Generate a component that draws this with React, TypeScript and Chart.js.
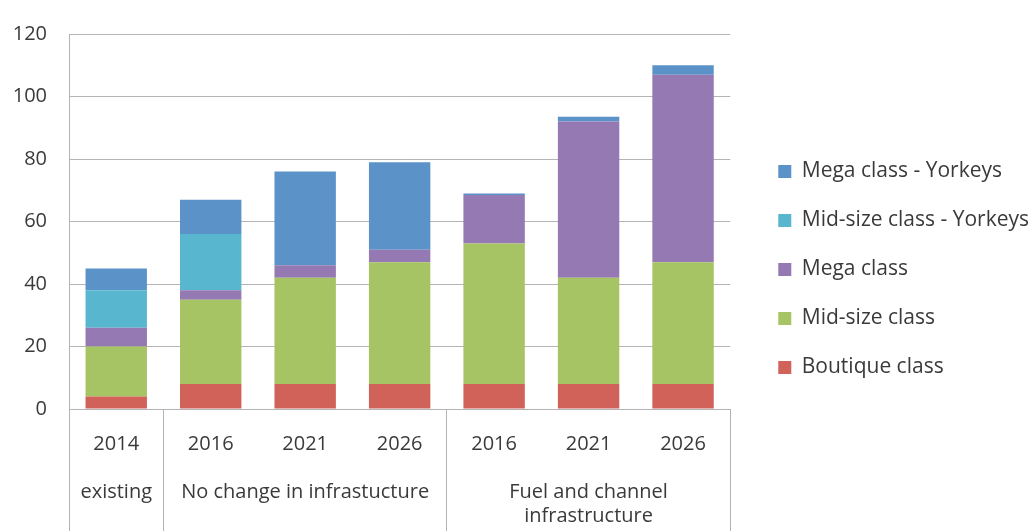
import React, { useEffect, useRef } from 'react';
import { Chart, registerables } from 'chart.js';

Chart.register(...registerables);

const years = ['2014', '2016', '2021', '2026', '2016', '2021', '2026'];
const groupLines: string[][] = [
  ['existing'],
  [],
  ['No change in infrastucture'],
  [],
  [],
  ['Fuel and channel', 'infrastructure'],
  [],
];
// grid line indices where group separators are drawn
const separatorIdx = [0, 1, 4];

const boutique = [4, 8, 8, 8, 8, 8, 8];
const midSize = [16, 27, 34, 39, 45, 34, 39];
const mega = [6, 3, 4, 4, 15.5, 50, 60];
const midYorkeys = [12, 18, 0, 0, 0, 0, 0];
const megaYorkeys = [7, 11, 30, 28, 0.5, 1.5, 3];

const seriesNames = ['Boutique class', 'Mid-size class', 'Mega class', 'Mid-size class - Yorkeys', 'Mega class - Yorkeys'];
const seriesColors = ['#d0625a', '#a6c464', '#9479b2', '#58b7cf', '#5b93c8'];

const TEXT = '#3a3a3a';
const GRID = '#b4b4b4';
const FONT = 'Open Sans';
const LEGEND_GAP = 20; // extra space between plot area and legend

const legendGapPlugin = {
  id: 'legendGap',
  beforeLayout(chart: any) {
    const lg = chart.legend;
    if (lg && !lg.__wrapped) {
      const orig = lg.fit;
      lg.fit = function () {
        orig.call(this);
        const natural = this.options.labels.padding + (this.columnSizes && this.columnSizes[0] ? this.columnSizes[0].width : 0);
        this.__natural = natural;
        this.width = natural + LEGEND_GAP;
      };
      lg.__wrapped = true;
    }
  },
  afterLayout(chart: any) {
    const lg = chart.legend;
    if (lg && lg.__natural) {
      lg.left = lg.right - lg.__natural;
    }
  },
};

export default function App() {
  const ref = useRef<HTMLCanvasElement | null>(null);

  useEffect(() => {
    if (!ref.current) return;
    const labels = years.map((y, i) => (groupLines[i].length ? [y, '', ...groupLines[i]] : [y]));
    const values = [boutique, midSize, mega, midYorkeys, megaYorkeys];
    const chart = new Chart(ref.current, {
      type: 'bar',
      data: {
        labels,
        datasets: values.map((v, i) => ({
          label: seriesNames[i],
          data: v,
          backgroundColor: seriesColors[i],
          borderWidth: 0,
          categoryPercentage: 1,
          barPercentage: 0.65,
        })),
      },
      plugins: [legendGapPlugin],
      options: {
        animation: false,
        responsive: true,
        maintainAspectRatio: false,
        layout: { padding: { top: 16, right: 0, bottom: 8, left: 0 } },
        plugins: {
          tooltip: { enabled: false },
          legend: {
            position: 'right',
            reverse: true,
            labels: {
              boxWidth: 13,
              boxHeight: 13,
              padding: 28,
              color: TEXT,
              font: { family: FONT, size: 21 },
            },
          },
        },
        scales: {
          x: {
            stacked: true,
            offset: true,
            grid: {
              offset: true,
              drawOnChartArea: false,
              drawTicks: true,
              tickLength: 130,
              lineWidth: 1,
              tickColor: (ctx: any) =>
                ctx.index === undefined || separatorIdx.includes(ctx.index) ? GRID : 'rgba(0,0,0,0)',
            },
            border: { display: true, color: GRID, width: 1 },
            ticks: {
              autoSkip: false,
              maxRotation: 0,
              minRotation: 0,
              padding: -107,
              color: TEXT,
              font: { family: FONT, size: 20, lineHeight: 1.2 },
            },
            afterFit: (s: any) => {
              s.height = 114;
            },
          },
          y: {
            stacked: true,
            min: 0,
            max: 120,
            ticks: {
              stepSize: 20,
              padding: 22,
              color: TEXT,
              font: { family: FONT, size: 20 },
            },
            grid: { color: GRID, drawTicks: false, lineWidth: 1 },
            border: { display: true, color: GRID, width: 1 },
            afterFit: (s: any) => {
              s.width = 69;
            },
          },
        },
      },
    });
    return () => chart.destroy();
  }, []);

  return (
    <div style={{ position: 'fixed', left: 0, top: 0, width: 1029, height: 531, background: '#fff' }}>
      <canvas ref={ref} style={{ display: 'block' }} />
    </div>
  );
}
